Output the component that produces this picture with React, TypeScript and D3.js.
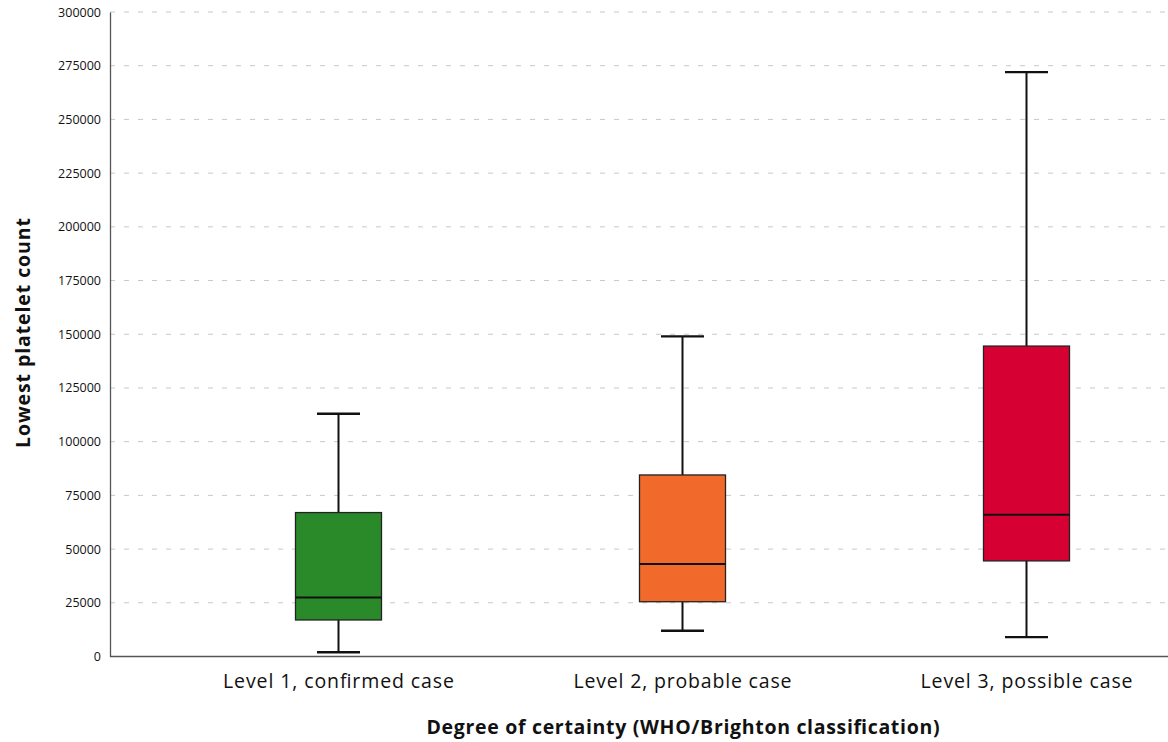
import React, { useRef, useEffect } from "react";
import * as d3 from "d3";

// box statistics
const categories = ["Level 1, confirmed case", "Level 2, probable case", "Level 3, possible case"];
const whiskerLow = [2000, 12000, 9000];
const q1 = [17000, 25500, 44500];
const median = [27500, 43000, 66000];
const q3 = [67000, 84500, 144500];
const whiskerHigh = [113000, 149000, 272000];
const colors = ["#2a8a2a", "#f26a2b", "#d70032"];
const yTicks = [0, 25000, 50000, 75000, 100000, 125000, 150000, 175000, 200000, 225000, 250000, 275000, 300000];

const W = 1168;
const H = 742;

export default function App() {
  const svgRef = useRef<SVGSVGElement>(null);

  useEffect(() => {
    const svg = d3.select(svgRef.current);
    svg.selectAll("*").remove();

    const left = 110, top = 12, bottom = 656.5, right = 1168;
    const font = "'Open Sans', sans-serif";

    const y = d3.scaleLinear().domain([0, 300000]).range([bottom, top]);
    const x = d3.scaleBand().domain(categories).range([166.5, 1198.5]).paddingInner(0.75).paddingOuter(0.375);

    // gridlines
    svg
      .append("g")
      .selectAll("line")
      .data(yTicks.filter((t) => t > 0))
      .join("line")
      .attr("x1", left)
      .attr("x2", right)
      .attr("y1", (d) => y(d))
      .attr("y2", (d) => y(d))
      .attr("stroke", "#c8c8c8")
      .attr("stroke-width", 1)
      .attr("stroke-dasharray", "5,9");

    // y axis
    const yAxis = svg
      .append("g")
      .attr("transform", `translate(${left},0)`)
      .call(d3.axisLeft(y).tickValues(yTicks).tickSize(0).tickPadding(9).tickFormat(d3.format("d")));
    yAxis.select(".domain").attr("stroke", "#555").attr("stroke-width", 1.3);
    yAxis.selectAll("text").style("font", `12.5px ${font}`).attr("fill", "#111");

    // x axis baseline
    svg
      .append("line")
      .attr("x1", left)
      .attr("x2", right)
      .attr("y1", bottom)
      .attr("y2", bottom)
      .attr("stroke", "#555")
      .attr("stroke-width", 1.3);

    const bw = x.bandwidth();
    const capW = bw / 2;

    categories.forEach((c, i) => {
      const cx = (x(c) as number) + bw / 2;
      const g = svg.append("g");
      // whiskers
      g.append("line")
        .attr("x1", cx).attr("x2", cx)
        .attr("y1", y(whiskerHigh[i])).attr("y2", y(q3[i]))
        .attr("stroke", "#111").attr("stroke-width", 2);
      g.append("line")
        .attr("x1", cx).attr("x2", cx)
        .attr("y1", y(q1[i])).attr("y2", y(whiskerLow[i]))
        .attr("stroke", "#111").attr("stroke-width", 2);
      [whiskerHigh[i], whiskerLow[i]].forEach((v) => {
        g.append("line")
          .attr("x1", cx - capW / 2).attr("x2", cx + capW / 2)
          .attr("y1", y(v)).attr("y2", y(v))
          .attr("stroke", "#111").attr("stroke-width", 2.4);
      });
      // box
      g.append("rect")
        .attr("x", x(c) as number)
        .attr("width", bw)
        .attr("y", y(q3[i]))
        .attr("height", y(q1[i]) - y(q3[i]))
        .attr("fill", colors[i])
        .attr("stroke", "#222")
        .attr("stroke-width", 1.3);
      g.append("line")
        .attr("x1", x(c) as number).attr("x2", (x(c) as number) + bw)
        .attr("y1", y(median[i])).attr("y2", y(median[i]))
        .attr("stroke", "#111").attr("stroke-width", 2);
      // category label
      g.append("text")
        .attr("x", cx)
        .attr("y", 688)
        .attr("text-anchor", "middle")
        .attr("textLength", i === 0 ? 231 : i === 1 ? 218 : 212)
        .attr("lengthAdjust", "spacing")
        .style("font", `19.5px ${font}`)
        .attr("fill", "#111")
        .text(c);
    });

    svg
      .append("text")
      .attr("x", 683)
      .attr("y", 734)
      .attr("text-anchor", "middle")
      .attr("textLength", 513)
      .attr("lengthAdjust", "spacing")
      .style("font", `bold 19.5px ${font}`)
      .attr("fill", "#111")
      .text("Degree of certainty (WHO/Brighton classification)");

    svg
      .append("text")
      .attr("transform", `translate(30,333) rotate(-90)`)
      .attr("text-anchor", "middle")
      .attr("textLength", 230)
      .attr("lengthAdjust", "spacing")
      .style("font", `bold 19.5px ${font}`)
      .attr("fill", "#111")
      .text("Lowest platelet count");
  }, []);

  return (
    <svg
      ref={svgRef}
      width={W}
      height={H}
      style={{ position: "absolute", left: 0, top: 0, background: "#fff" }}
    />
  );
}
